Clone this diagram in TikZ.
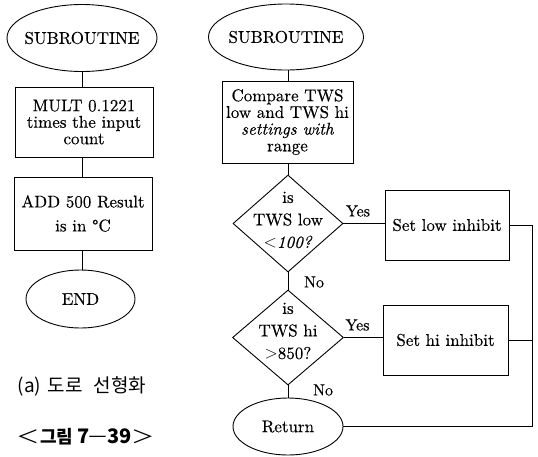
\documentclass[tikz,border=0pt]{standalone}
\usepackage{graphicx}
\usepackage{fontspec}
\setmainfont{lmroman10-regular}[Extension=.otf, ItalicFont=lmroman10-italic, FakeBold=0.35]
\newfontfamily\krfont{Noto Sans CJK KR}
\usetikzlibrary{shapes.geometric}
\begin{document}
\begin{tikzpicture}[x=1pt,y=-1pt, line width=0.9pt,
  every node/.style={font=\fontsize{17}{17}\selectfont},
  term/.style={draw, ellipse, inner sep=0pt},
  proc/.style={draw, rectangle, inner sep=0pt, align=center},
  dec/.style={draw, diamond, inner sep=0pt},
  dtext/.style={align=center, inner sep=0pt, font=\fontsize{17}{22.5}\selectfont},
  lbl/.style={inner sep=0pt, font=\fontsize{16}{16}\selectfont}]
\useasboundingbox (0,0) rectangle (538,456);

% ---- left flowchart ----
\node[term, minimum width=150pt, minimum height=67pt] (lsub) at (82,38) {\makebox[0pt]{SUBROUTINE}};
\node[proc, minimum width=138pt, minimum height=70pt, font=\fontsize{17}{16.5}\selectfont] (lmult) at (84,122) {MULT 0.1221\\times the input\\count};
\node[proc, minimum width=138pt, minimum height=73pt, font=\fontsize{17}{24}\selectfont] (ladd) at (83,213.5) {ADD 500 Result\\is in {\textdegree}C};
\node[term, minimum width=109pt, minimum height=58pt] (lend) at (80.5,299) {\makebox[0pt]{END}};

\draw (lsub.south) -- (lsub.south |- lmult.north);
\draw (lsub.south |- lmult.south) -- (lsub.south |- ladd.north);
\draw (lsub.south |- ladd.south) -- (lsub.south |- lend.north);

\node[anchor=west, inner sep=0pt, font=\krfont\fontsize{19}{19}\selectfont] (cap) at (18,386)
  {\makebox[22pt]{(a)}\hspace{8pt}\makebox[34pt]{도로}\hspace{10pt}\makebox[55pt]{선형화}};
\node[anchor=west, inner sep=0pt, font=\krfont\fontsize{18}{18}\selectfont] (fig) at (18,437)
  {\makebox[19pt]{\scalebox{1.3}[1]{＜}}\hspace{3pt}\makebox[33pt]{\bfseries 그림}\hspace{5pt}\makebox[10pt]{\bfseries\fontsize{20}{20}\selectfont 7}\hspace{2pt}\makebox[15pt]{\scalebox{1.9}[1]{−}}\hspace{2pt}\makebox[25pt]{\bfseries\fontsize{20}{20}\selectfont 39}\hspace{1pt}\makebox[20pt]{\scalebox{1.3}[1]{＞}}};

% ---- right flowchart ----
\node[term, minimum width=155pt, minimum height=66pt] (rsub) at (286,37) {\makebox[0pt]{SUBROUTINE}};
\node[proc, minimum width=131pt, minimum height=82pt, font=\fontsize{17}{16.7}\selectfont] (rcmp) at (287.5,122) {Compare TWS\\low and TWS hi\\\textit{settings with}\\range};
\node[dec, minimum width=110pt, minimum height=97pt] (d1) at (288,223.5) {};
\node[dtext] (d1t) at (288,220) {is\\TWS low\\$<$\textit{100?}};
\node[dec, minimum width=111pt, minimum height=95pt] (d2) at (288,337.5) {};
\node[dtext] (d2t) at (288,331) {is\\TWS hi\\$>$850?};
\node[term, minimum width=110pt, minimum height=57pt] (ret) at (288,426.5) {\makebox[0pt]{Return}};
\node[proc, minimum width=124pt, minimum height=70pt] (low) at (447,225) {Set low inhibit};
\node[proc, minimum width=125pt, minimum height=70pt] (hi) at (445.5,340) {Set hi inhibit};
\coordinate (rx) at (532,0);

\draw (d1.north |- rsub.south) -- (d1.north |- rcmp.north);
\draw (d1.north |- rcmp.south) -- (d1.north);
\draw (d1.south) -- (d2.north);
\draw (d2.south) -- (ret.north);
\draw (d1.east) -- (d1.east -| low.west);
\draw (d2.east) -- (d2.east -| hi.west);
\draw (low.east) -- (low.east -| rx) -- (rx |- ret.east) -- (ret.east);
\draw (hi.east) -- (hi.east -| rx);

\node[lbl] (y1) at (358,211) {Yes};
\node[lbl] (y2) at (357.5,325) {Yes};
\node[lbl] (n1) at (314,282) {No};
\node[lbl] (n2) at (323,390) {No};
\end{tikzpicture}
\end{document}
